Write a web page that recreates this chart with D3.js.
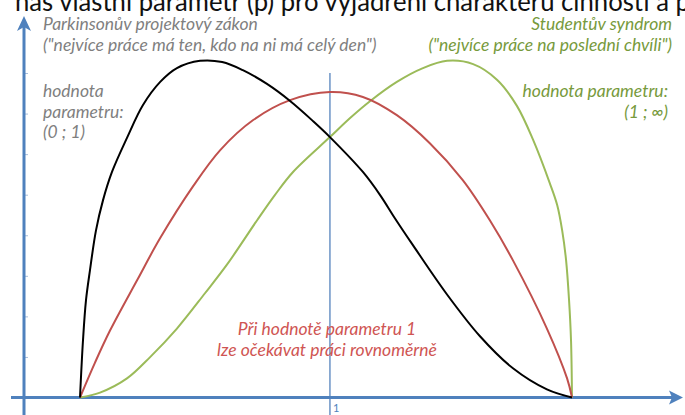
<!DOCTYPE html>
<html>
<head>
<meta charset="utf-8">
<script src="https://cdn.jsdelivr.net/npm/d3@7"></script>
<style>
  body { margin: 0; background: #fff; }
  svg { display: block; }
  text { font-family: Lato, "Open Sans", sans-serif; }
</style>
</head>
<body>
<div id="chart"></div>
<script>
// time share of the task (0-100) and work intensity (tick units)
const blackX = [0, 0.61, 1.22, 2.03, 3.25, 4.67, 6.5, 9.55, 12.8, 16.3, 19.7, 24.4, 28.9, 33.1, 38.0, 42.7, 47.4, 50.8, 57.5, 61.0, 64.0, 67.7, 74.6, 81.3, 88.0, 94.9, 100];
const blackY = [0, 1.41, 2.4, 3.14, 4.12, 4.86, 5.56, 6.4, 7.21, 7.78, 8.12, 8.3, 8.27, 8.07, 7.73, 7.31, 6.81, 6.42, 5.56, 4.99, 4.42, 3.75, 2.54, 1.51, 0.72, 0.2, 0];

const redX = [0, 3.05, 6.1, 11.6, 16.3, 23.0, 28.5, 35.2, 42.7, 50.8, 57.5, 64.4, 71.1, 77.8, 83.3, 88.0, 94.9, 99.0, 100];
const redY = [0, 0.86, 1.65, 2.89, 3.93, 5.21, 6.1, 6.84, 7.33, 7.53, 7.41, 6.96, 6.27, 5.36, 4.37, 3.38, 1.7, 0.47, 0];

const greenX = [0, 4.07, 9.55, 14.2, 19.7, 25.4, 29.9, 36.0, 39.6, 43.3, 50.8, 54.9, 59.0, 64.4, 69.7, 74.6, 79.9, 84.8, 88.8, 92.1, 95.5, 97.0, 98.0, 98.8, 99.4, 99.8, 100];
const greenY = [0, 0.12, 0.47, 0.99, 1.7, 2.57, 3.28, 4.37, 4.99, 5.56, 6.42, 6.89, 7.31, 7.78, 8.12, 8.3, 8.22, 7.83, 7.19, 6.35, 5.28, 4.74, 4.12, 3.38, 2.40, 1.41, 0];

const yTicks = [1, 2, 3, 4, 5, 6, 7, 8];
const markerX = 50.8;
const markerLabel = "1";

const W = 685, H = 415;
const svg = d3.select("#chart").append("svg")
  .attr("width", W).attr("height", H);

const x = d3.scaleLinear().domain([0, 100]).range([80, 572]);
const y = d3.scaleLinear().domain([0, 8]).range([397.5, 73]);
const axisColor = "#4f81bd";
const originX = 24;

// cut-off heading at the very top
svg.append("text")
  .attr("x", 15).attr("y", 11)
  .attr("textLength", 675).attr("lengthAdjust", "spacingAndGlyphs")
  .style("font-size", "27px").style("fill", "#111")
  .text("nás vlastní parametr (p) pro vyjádření charakteru činnosti a p");

// y ticks
const yAxis = svg.append("g")
  .attr("transform", `translate(${originX},0)`)
  .call(d3.axisRight(y).tickValues(yTicks).tickSize(4).tickFormat(""));
yAxis.select(".domain").remove();
yAxis.selectAll("line").attr("stroke", "#a9bedc").attr("stroke-width", 1);

// vertical marker at parameter 1
svg.append("line")
  .attr("x1", x(markerX)).attr("x2", x(markerX))
  .attr("y1", y(8)).attr("y2", H)
  .attr("stroke", "#6b93c6").attr("stroke-width", 1.5);
svg.append("text")
  .attr("x", x(markerX) + 3).attr("y", 412)
  .style("font-size", "11px").style("fill", axisColor)
  .text(markerLabel);

// axes with arrows
svg.append("line")
  .attr("x1", 11).attr("x2", 676).attr("y1", y(0)).attr("y2", y(0))
  .attr("stroke", axisColor).attr("stroke-width", 3);
svg.append("path")
  .attr("d", `M683,${y(0)} L669,${y(0) - 7} L672,${y(0)} L669,${y(0) + 7} Z`)
  .attr("fill", axisColor);
svg.append("line")
  .attr("x1", originX).attr("x2", originX).attr("y1", H).attr("y2", 24)
  .attr("stroke", axisColor).attr("stroke-width", 3);
svg.append("path")
  .attr("d", `M${originX},16 L${originX - 7},31 L${originX},27 L${originX + 7},31 Z`)
  .attr("fill", axisColor);

// curves
const line = d3.line()
  .x(d => x(d[0])).y(d => y(d[1]))
  .curve(d3.curveCatmullRom.alpha(0.5));

const series = [
  { xs: greenX, ys: greenY, color: "#9bbb59" },
  { xs: redX, ys: redY, color: "#c0504d" },
  { xs: blackX, ys: blackY, color: "#000000" }
];
series.forEach(s => {
  svg.append("path")
    .datum(d3.zip(s.xs, s.ys))
    .attr("fill", "none")
    .attr("stroke", s.color)
    .attr("stroke-width", 2)
    .attr("d", line);
});

// annotations
function label(lines, xPos, yPos, anchor, color) {
  const t = svg.append("text")
    .attr("text-anchor", anchor)
    .style("font-size", "17.5px").style("font-style", "italic")
    .style("fill", color);
  lines.forEach((l, i) => {
    t.append("tspan").attr("x", xPos).attr("y", yPos + i * 20.5).text(l);
  });
}
label(["Parkinsonův projektový zákon", "(\"nejvíce práce má ten, kdo na ni má celý den\")"], 43, 30, "start", "#7f7f7f");
label(["hodnota", "parametru:", "(0 ; 1)"], 43, 97, "start", "#7f7f7f");
label(["Studentův syndrom", "(\"nejvíce práce na poslední chvíli\")"], 672, 30, "end", "#779a3c");
label(["hodnota parametru:", "(1 ; ∞)"], 668, 97, "end", "#779a3c");
label(["Při hodnotě parametru 1", "lze očekávat práci rovnoměrně"], 327, 335, "middle", "#cf5553");
</script>
</body>
</html>
